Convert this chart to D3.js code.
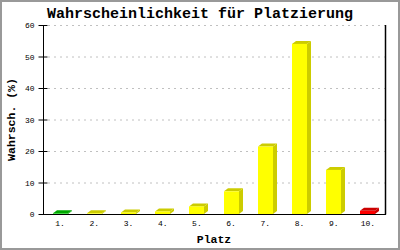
<!DOCTYPE html>
<html>
<head>
<meta charset="utf-8">
<script src="https://cdn.jsdelivr.net/npm/d3@7"></script>
<style>
  body { margin: 0; background: #fff; }
  svg { display: block; }
</style>
</head>
<body>
<div id="chart"></div>
<script>
// Daten
var plaetze = ["1.", "2.", "3.", "4.", "5.", "6.", "7.", "8.", "9.", "10."];
var werte = [0.2, 0.2, 0.5, 0.8, 2.4, 7.2, 21.4, 54.0, 14.0, 1.0];
var farben = ["green", "yellow", "yellow", "yellow", "yellow", "yellow", "yellow", "yellow", "yellow", "red"];
var yTicks = [0, 10, 20, 30, 40, 50, 60];

var width = 400, height = 250;
var plotLeft = 43, plotRight = 385, plotTop = 25, plotBottom = 214;
var font = "'Liberation Mono', 'DejaVu Sans Mono', monospace";

var faceColor = { green: "#00cc00", yellow: "#ffff00", red: "#ff0000" };
var sideColor = { green: "#00a800", yellow: "#cccc00", red: "#cc0000" };

var svg = d3.select("#chart").append("svg")
    .attr("width", width)
    .attr("height", height);

// Rahmen
svg.append("rect")
    .attr("x", 1).attr("y", 1)
    .attr("width", width - 2).attr("height", height - 2)
    .attr("fill", "#fff")
    .attr("stroke", "#999")
    .attr("stroke-width", 2);

var x = d3.scaleBand().domain(plaetze).range([plotLeft, plotRight]);
var y = d3.scaleLinear().domain([0, 60]).range([plotBottom, plotTop]);

// Gitterlinien
svg.append("g").selectAll("line")
    .data(yTicks.filter(function(d) { return d > 0; }))
    .enter().append("line")
    .attr("x1", plotLeft + 5).attr("x2", plotRight)
    .attr("y1", function(d) { return y(d) + 0.5; })
    .attr("y2", function(d) { return y(d) + 0.5; })
    .attr("stroke", "#c0c0c0")
    .attr("stroke-dasharray", "2,4");

// Balken (3D)
var depthX = 4, depthY = 3, barW = 15;
var bars = svg.append("g").selectAll("g")
    .data(werte)
    .enter().append("g");

bars.each(function(v, i) {
    var g = d3.select(this);
    var c = farben[i];
    var x0 = Math.round(x(plaetze[i]) + x.bandwidth() / 2 - barW / 2);
    var y0 = y(v);
    // Seite
    g.append("polygon")
        .attr("points", [
            [x0 + barW, y0], [x0 + barW + depthX, y0 - depthY],
            [x0 + barW + depthX, plotBottom - depthY], [x0 + barW, plotBottom]
        ].join(" "))
        .attr("fill", sideColor[c]);
    // Oberseite
    g.append("polygon")
        .attr("points", [
            [x0, y0], [x0 + depthX, y0 - depthY],
            [x0 + barW + depthX, y0 - depthY], [x0 + barW, y0]
        ].join(" "))
        .attr("fill", sideColor[c]);
    // Vorderseite
    g.append("rect")
        .attr("x", x0).attr("y", y0)
        .attr("width", barW).attr("height", plotBottom - y0)
        .attr("fill", faceColor[c]);
});

// Achsen
var yAxis = d3.axisLeft(y).tickValues(yTicks).tickSize(5).tickPadding(4);
var gy = svg.append("g")
    .attr("transform", "translate(" + (plotLeft + 0.5) + ",0)")
    .call(yAxis);
gy.select(".domain").remove();
gy.selectAll(".tick line").attr("x2", 4).attr("x1", -5).attr("stroke", "#000");
gy.selectAll("text").attr("font-family", font).attr("font-size", 8).attr("fill", "#000");

svg.append("line")
    .attr("x1", plotLeft + 0.5).attr("x2", plotLeft + 0.5)
    .attr("y1", plotTop).attr("y2", plotBottom + 0.5)
    .attr("stroke", "#000");
svg.append("line")
    .attr("x1", plotRight + 0.5).attr("x2", plotRight + 0.5)
    .attr("y1", plotTop).attr("y2", plotBottom + 0.5)
    .attr("stroke", "#000").attr("stroke-width", 1.5);

var xAxis = d3.axisBottom(x).tickSize(0).tickPadding(6);
var gx = svg.append("g")
    .attr("transform", "translate(0," + (plotBottom + 0.5) + ")")
    .call(xAxis);
gx.select(".domain").attr("stroke", "#000").attr("d", "M" + plotLeft + ",0H" + (plotRight + 1));
gx.selectAll("text").attr("font-family", font).attr("font-size", 8).attr("fill", "#000");

// Titel
svg.append("text")
    .attr("x", 200).attr("y", 18)
    .attr("text-anchor", "middle")
    .attr("font-family", font)
    .attr("font-weight", "bold")
    .attr("font-size", 15)
    .text("Wahrscheinlichkeit für Platzierung");

// Achsentitel
svg.append("text")
    .attr("x", (plotLeft + plotRight) / 2).attr("y", 243)
    .attr("text-anchor", "middle")
    .attr("font-family", font)
    .attr("font-weight", "bold")
    .attr("font-size", 11.5)
    .text("Platz");

svg.append("text")
    .attr("transform", "translate(15," + ((plotTop + plotBottom) / 2) + ") rotate(-90)")
    .attr("text-anchor", "middle")
    .attr("font-family", font)
    .attr("font-weight", "bold")
    .attr("font-size", 11.5)
    .text("Wahrsch. (%)");
</script>
</body>
</html>
